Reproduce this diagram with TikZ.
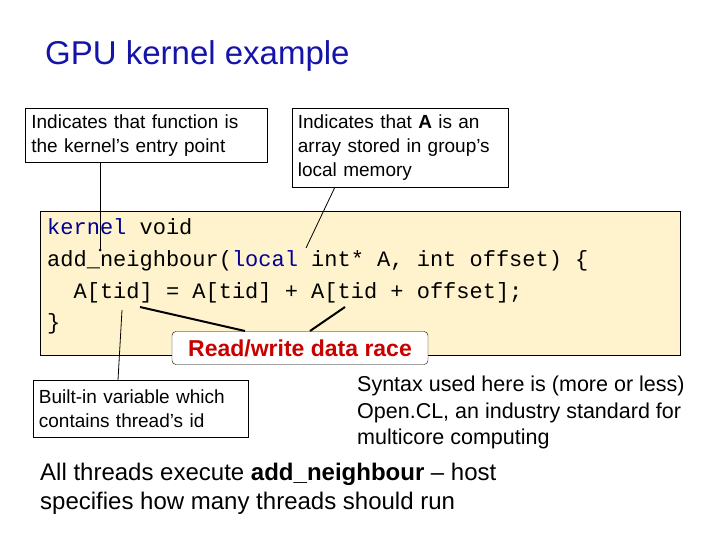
\documentclass[tikz,border=0pt]{standalone}
\usepackage{fontspec}
\setmainfont{Liberation Sans}
\setmonofont{Liberation Mono}
\definecolor{titleblue}{RGB}{20,20,170}
\definecolor{keyblue}{RGB}{0,0,150}
\definecolor{codefill}{RGB}{255,243,206}
\definecolor{racered}{RGB}{200,0,0}
\tikzset{
  note/.style={draw, thick, fill=white, align=left, inner sep=4pt, font=\fontsize{19}{24}\selectfont},
  code/.style={anchor=base west, inner sep=0pt, font=\fontsize{22}{22}\ttfamily},
  plain/.style={anchor=north west, align=left, inner sep=0pt},
  link/.style={thick}
}
\begin{document}
\begin{tikzpicture}[x=1pt,y=-1pt]
\useasboundingbox (0,0) rectangle (720,540);
% title
\node[plain, anchor=base west, text=titleblue, font=\fontsize{33}{33}\selectfont] (title) at (45,65) {GPU kernel example};
% code
\draw[fill=codefill] (40,211) rectangle (680,355);
\node[code] (l1) at (47,235) {\textcolor{keyblue}{kernel} void};
\node[code] (l2) at (47,266) {add\_neighbour(\textcolor{keyblue}{local} int* A, int offset) \{};
\node[code] (l3) at (47,298) {\ \ A[tid] = A[tid] + A[tid + offset];};
\node[code] (l4) at (47,329) {\}};
\coordinate (kern) at (100,250);
\coordinate (loc) at (306,248);
\coordinate (tid) at (122,310);
\coordinate (rd) at (140,307);
\coordinate (wr) at (345,307);
% callouts
\node[note, anchor=north west, minimum width=242pt, minimum height=54pt, text width=230pt] (entry) at (25,108)
  {Indicates that function is\\the kernel’s entry point};
\node[note, anchor=north west, minimum width=216pt, minimum height=79pt, text width=205pt] (mem) at (292,108)
  {Indicates that \textbf{A} is an\\array stored in group’s\\local memory};
\node[note, anchor=north west, minimum width=215pt, minimum height=57pt, text width=204pt] (builtin) at (33,380)
  {Built-in variable which\\contains thread’s id};
\node[draw, fill=white, rounded corners=4pt, minimum width=256pt, minimum height=33pt, font=\bfseries\fontsize{23}{23}\selectfont, text=racered] (race) at (300,348) {Read/write data race};
\draw[link] (entry.south -| kern) -- (kern);
\fill (kern) circle (1.5);
\draw[link] (335,187) -- (loc);
\draw[link] (118,380) -- (tid);
\draw[link, line width=2pt] (245,331) -- (rd);
\draw[link, line width=2pt] (310,331) -- (wr);
% text
\node[plain, font=\fontsize{21.5}{26.5}\selectfont] (syntax) at (357,376)
  {Syntax used here is (more or less)\\Open.CL, an industry standard for\\multicore computing};
\node[plain, font=\fontsize{24}{29}\selectfont] (bottom) at (40,463)
  {All threads execute \textbf{add\_neighbour} – host\\specifies how many threads should run};
\end{tikzpicture}
\end{document}
